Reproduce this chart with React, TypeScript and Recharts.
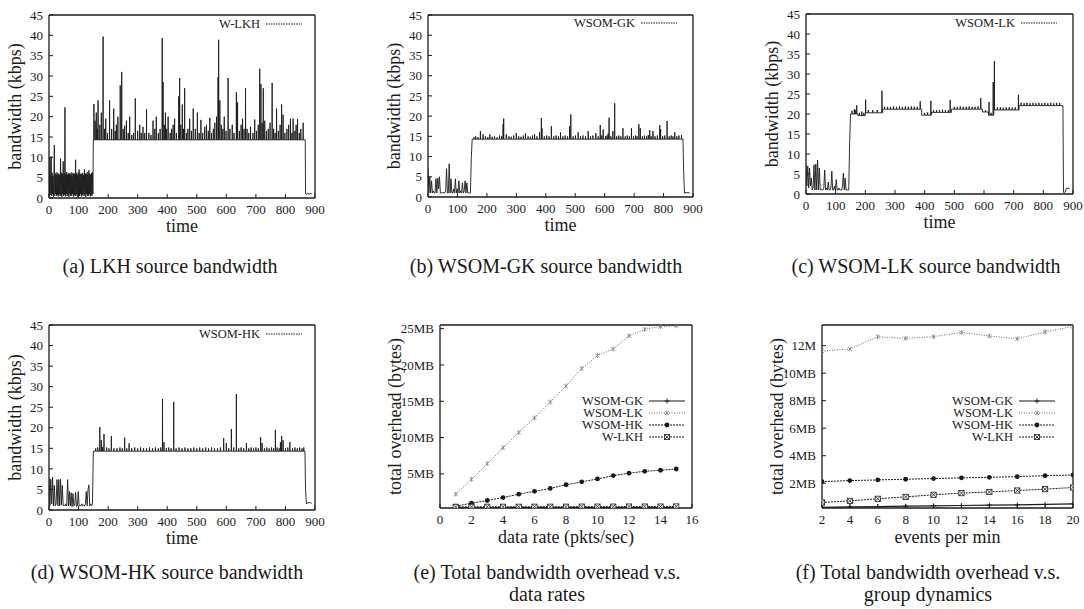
import React from 'react';
import { LineChart, Line, XAxis, YAxis, Legend } from 'recharts';

const SERIF = '"Liberation Serif", "DejaVu Serif", serif';
const INK = '#1a1a1a';

// start-up phase sample spacing (s); the LKH run is sampled twice as densely
const LOW_STEP = 3;
const LKH_LOW_STEP = 1.5;
const TAIL_START = 868;
const TAIL_STEP = 3;

const timeTicks = [0, 100, 200, 300, 400, 500, 600, 700, 800, 900];
const bwTicks = [0, 5, 10, 15, 20, 25, 30, 35, 40, 45];

type Seg = [number, number, number];
type Spike = [number, number];

// (a) W-LKH
const lkhLow = [
  6, 0.5, 10, 0.8, 5.8, 10.2, 0.5, 6.2, 1, 5.5, 0.3, 6, 13, 0.5, 6.1, 1, 5.7, 0.5, 6.3, 0.8,
  5.9, 0.4, 6, 1, 5.6, 0.5, 9.7, 0.6, 6.2, 0.3, 5.8, 1, 9, 0.5, 6, 0.8, 22.3, 0.4, 5.9, 1,
  6.4, 0.5, 5.7, 0.8, 6.1, 0.3, 6, 1, 5.8, 0.5, 6.3, 0.6, 5.5, 1, 6.2, 0.4, 5.9, 0.8, 6, 0.5,
  9.4, 0.6, 6.1, 1, 5.7, 0.3, 6.3, 0.8, 7, 0.5, 5.9, 1, 6, 0.4, 5.8, 0.6, 6.2, 1, 5.6, 0.5,
  7, 0.8, 6, 0.3, 5.9, 1, 6.4, 0.5, 5.8, 0.6, 6.8, 1, 6, 0.4, 5.7, 0.8, 6.1, 0.5, 6.3, 1,
];
const lkhSegs: Seg[] = [[150, 867, 14.3]];
const lkhSpikes: Spike[] = [
  [152, 23.1], [156, 19], [160, 21], [163, 17], [166, 24], [172, 18], [177, 21], [183, 39.7], [188, 17], [192, 19.5],
  [198, 16], [205, 24], [212, 17], [219, 22], [224, 16.5], [228, 18], [233, 20], [241, 27.7], [246, 31], [251, 17],
  [256, 17.8], [262, 19], [268, 16], [273, 20], [280, 15.5], [286, 16], [292, 24.5], [300, 16.5], [307, 18], [312, 16],
  [318, 17.5], [324, 16], [330, 21.8], [338, 16], [345, 15.5], [352, 19], [358, 17], [363, 20], [370, 16], [376, 17],
  [383, 39.3], [386, 28.5], [390, 18], [394, 21], [398, 17], [403, 20], [410, 16], [415, 17], [420, 18], [425, 19.5],
  [431, 16], [439, 25], [442, 29.5], [446, 18], [451, 23], [455, 17], [459, 27], [465, 16], [470, 17], [476, 19.5],
  [482, 16.5], [488, 22], [495, 17], [502, 21], [508, 16], [514, 19.2], [520, 16], [527, 17.5], [533, 18], [539, 16.5],
  [544, 19.7], [550, 16], [556, 17], [561, 18.5], [567, 20], [572, 29.7], [574, 38.9], [578, 24], [583, 18], [588, 17],
  [593, 20], [599, 16.5], [606, 29.5], [612, 17], [620, 18], [626, 16], [634, 26], [638, 23.5], [644, 16.5], [650, 18],
  [655, 19.5], [660, 17], [665, 27], [670, 17], [676, 16], [682, 17.5], [690, 16], [696, 19.3], [702, 16.5], [708, 18],
  [713, 31.8], [717, 28], [721, 18.5], [725, 27], [730, 19], [736, 16.5], [742, 17], [748, 18.5], [755, 28.3], [760, 17],
  [765, 16], [770, 22], [776, 16.5], [782, 18], [787, 23], [792, 20.5], [798, 16], [805, 17], [811, 18], [817, 19.5],
  [822, 16], [826, 19.5], [832, 16.5], [836, 18], [841, 19.4], [847, 16], [852, 17], [860, 18.5],
];
const lkhTail = [1, 0.8, 1.2, 1, 1.1, 0.9, 1.2, 1];

// (b) WSOM-GK
const gkLow = [7.3, 1, 5, 1, 4, 1, 1.5, 1, 1, 4.5, 1, 4.7, 2, 5, 1, 1, 1, 1.2, 1, 1,
  1.5, 7, 1, 1, 8.2, 1, 4.5, 1, 1, 2, 1, 4.5, 1, 2, 1, 4, 1, 1.5, 1, 3.5,
  1, 1.5, 4, 1, 3.5, 1, 1, 1, 1, 9.5];
const gkSegs: Seg[] = [[150, 866, 14.3]];
const gkSpikes: Spike[] = [
  [156, 14.8], [162, 15], [170, 14.8], [178, 16.3], [187, 15.5], [195, 15], [203, 14.8], [210, 15.5], [218, 14.9], [226, 15],
  [235, 14.8], [243, 15.2], [250, 15], [255, 18], [257, 19.4], [266, 15.5], [275, 15], [283, 14.9], [291, 15.2], [300, 15.8],
  [308, 15], [316, 14.9], [324, 15.2], [331, 15.7], [340, 15], [348, 14.9], [355, 15.2], [362, 15.5], [370, 15], [379, 16],
  [385, 19.5], [387, 17], [395, 15], [403, 15.2], [411, 15], [419, 17.5], [427, 15], [435, 15.2], [443, 15], [450, 16],
  [458, 15], [466, 15.2], [474, 15], [481, 17.5], [485, 20.4], [493, 15], [501, 15.2], [510, 16], [518, 15], [526, 15.2],
  [535, 15], [544, 16.3], [552, 15], [560, 15.2], [570, 15.8], [578, 15], [585, 17.8], [590, 15.2], [595, 16.7], [603, 15],
  [608, 15.2], [612, 15.7], [615, 19.6], [621, 15], [628, 16.3], [634, 23.2], [641, 15], [648, 15.2], [655, 15], [662, 17],
  [670, 15], [677, 15.2], [684, 15], [691, 17], [698, 15], [705, 15.2], [710, 15], [716, 18], [721, 17], [728, 15],
  [735, 15.2], [742, 15], [748, 15.3], [753, 16.5], [758, 15], [764, 16.3], [771, 15], [779, 15.2], [787, 17.8], [790, 16.8],
  [797, 15], [804, 15.2], [812, 18.8], [819, 15], [826, 15.2], [832, 15], [838, 16], [845, 15], [852, 15.2], [861, 15.3],
];
const gkTail = [6.7, 1, 1.2, 0.9, 1.2, 1, 1.1, 1];

// (c) WSOM-LK
const lkLow = [7.3, 2, 7, 1.5, 6.5, 2, 4, 1, 1.5, 7.3, 1, 7.5, 1, 8.5, 1, 6.5, 1, 1.2, 1, 1,
  1.5, 6, 1, 1.5, 1, 3, 1, 1, 1.5, 5.7, 1, 1, 2, 1, 3.6, 1, 1, 1.5, 1, 1,
  1, 2, 5.2, 1, 4, 1, 1, 1, 1, 12.5];
const lkSegs: Seg[] = [
  [150, 175, 20.0], [175, 200, 19.6], [200, 257, 20.3], [257, 390, 21.2], [390, 422, 19.7], [422, 490, 20.4],
  [490, 595, 21.2], [595, 615, 20.5], [615, 633, 19.7], [633, 718, 21.0], [718, 866, 22.1],
];
const lkSpikes: Spike[] = [
  [155, 20.8], [163, 21.2], [166, 21], [171, 22.2], [180, 20.3], [188, 20.6], [195, 20.3], [201, 23.6], [210, 21], [225, 21],
  [240, 21], [256, 25.8], [265, 21.8], [275, 21.8], [285, 21.8], [295, 21.9], [305, 21.8], [315, 21.9], [325, 21.8], [335, 21.9],
  [345, 21.8], [355, 21.9], [365, 21.8], [375, 21.8], [385, 23.2], [400, 20.3], [410, 20.4], [421, 23.3], [430, 21], [440, 21],
  [450, 21], [460, 21.1], [470, 21], [480, 21], [486, 23.5], [500, 21.8], [510, 21.8], [520, 21.9], [530, 21.8], [540, 21.8],
  [550, 21.9], [560, 21.8], [570, 21.8], [580, 21.9], [589, 24], [605, 21], [617, 23], [624, 20.3], [631, 28], [635, 33.2],
  [645, 21.7], [655, 21.7], [665, 21.6], [675, 21.7], [685, 21.7], [695, 21.6], [705, 21.7], [716, 24.8], [725, 22.8], [735, 22.7],
  [745, 22.8], [755, 22.7], [765, 22.8], [775, 22.7], [785, 22.8], [795, 22.7], [805, 22.8], [815, 22.7], [825, 22.8], [835, 22.7],
  [845, 22.8], [855, 22.8],
];
const lkTail = [0.4, 0.4, 0.5, 1.3, 1.5, 1.3, 1.5, 1.3];

// (d) WSOM-HK
const hkLow = [7.8, 1, 7.5, 1.5, 8, 1, 6, 1, 1.5, 7.4, 1, 7.4, 1, 7.5, 1.2, 6, 1, 1.2, 1, 1.5,
  1, 7.4, 1, 4.5, 1, 4.2, 0.8, 4, 1, 1.2, 4.3, 0.8, 1, 4.5, 1, 1.2, 1, 1.5, 1, 1.2,
  1, 1.5, 4.5, 1, 5, 6.1, 1, 1.5, 1, 1.5];
const hkSegs: Seg[] = [[150, 866, 14.3]];
const hkSpikes: Spike[] = [
  [158, 15], [165, 15.2], [172, 20.2], [177, 17], [181, 15.3], [186, 18.5], [195, 15.2], [203, 15], [211, 18], [220, 15],
  [230, 15], [240, 15.2], [248, 15], [256, 17.6], [263, 15], [271, 16.2], [280, 15], [290, 15.2], [300, 15], [310, 15.2],
  [320, 15], [330, 15], [340, 15.2], [350, 15], [360, 15.2], [370, 15], [378, 15.2], [384, 27], [389, 16.5], [397, 15],
  [405, 15.2], [413, 15], [422, 26.3], [430, 15], [440, 15.2], [450, 15], [460, 15.2], [470, 15], [480, 15], [490, 15.2],
  [500, 15], [510, 15.2], [520, 15], [530, 15.2], [540, 15], [550, 15.2], [560, 15], [570, 15], [580, 15.2], [591, 17.5],
  [600, 16.3], [608, 15], [617, 19.7], [625, 15.2], [634, 28.2], [642, 15], [650, 15.2], [659, 15], [668, 16.3], [676, 15],
  [684, 15.2], [692, 15], [700, 15.2], [708, 15], [716, 17.7], [721, 16.3], [729, 15], [737, 15.2], [745, 15], [753, 15.2],
  [760, 15], [766, 19.5], [772, 15.2], [779, 15], [783, 16.5], [787, 18], [792, 17], [800, 15], [808, 15.2], [815, 16.5],
  [824, 15], [832, 15.2], [840, 15], [848, 15.2], [856, 15], [862, 15.2],
];
const hkTail = [5, 1.5, 1.8, 1.6, 1.9, 1.7, 1.8, 1.6];

// (e) overhead vs data rate, MB
const rates = [1, 2, 3, 4, 5, 6, 7, 8, 9, 10, 11, 12, 13, 14, 15];
const rateGK = [0.32, 0.32, 0.33, 0.33, 0.34, 0.34, 0.35, 0.35, 0.35, 0.36, 0.36, 0.36, 0.37, 0.37, 0.37];
const rateLK = [2.2, 4.25, 6.4, 8.6, 10.7, 12.7, 14.9, 17.1, 19.5, 21.3, 22.2, 24.0, 24.9, 25.3, 25.4];
const rateHK = [0.55, 0.96, 1.33, 1.74, 2.2, 2.6, 3.0, 3.5, 3.9, 4.3, 4.76, 5.1, 5.35, 5.5, 5.67];
const rateWLKH = [0.46, 0.46, 0.47, 0.47, 0.47, 0.48, 0.48, 0.48, 0.49, 0.49, 0.49, 0.5, 0.5, 0.5, 0.51];
const rateXTicks = [0, 2, 4, 6, 8, 10, 12, 14, 16];
const rateYTicks = [5, 10, 15, 20, 25];

// (f) overhead vs events per minute, MB
const events = [2, 4, 6, 8, 10, 12, 14, 16, 18, 20];
const dynGK = [0.25, 0.28, 0.3, 0.33, 0.36, 0.38, 0.41, 0.43, 0.46, 0.5];
const dynLK = [11.6, 11.76, 12.65, 12.53, 12.65, 12.96, 12.7, 12.5, 13.0, 13.4];
const dynHK = [2.12, 2.19, 2.24, 2.29, 2.34, 2.39, 2.43, 2.48, 2.55, 2.6];
const dynWLKH = [0.6, 0.72, 0.87, 1.01, 1.16, 1.28, 1.37, 1.47, 1.57, 1.69];
const dynXTicks = [2, 4, 6, 8, 10, 12, 14, 16, 18, 20];
const dynYTicks = [2, 4, 6, 8, 10, 12];

function buildTrace(low: number[], step: number, segs: Seg[], spikes: Spike[], tail: number[]) {
  const pts = low.map((bw, i) => ({ t: i * step, bw }));
  for (const [t0, t1, lvl] of segs) {
    pts.push({ t: t0, bw: lvl });
    spikes
      .filter(([t]) => t >= t0 && t < t1)
      .sort((a, b) => a[0] - b[0])
      .forEach(([t, peak]) => {
        pts.push({ t: t - 0.4, bw: lvl }, { t, bw: peak }, { t: t + 0.4, bw: lvl });
      });
    pts.push({ t: t1, bw: lvl });
  }
  tail.forEach((bw, i) => pts.push({ t: TAIL_START + i * TAIL_STEP, bw }));
  return pts;
}

type MarkKind = 'plus' | 'star' | 'disc' | 'boxx' | 'none';

function Mark({ kind, cx, cy }: { kind: MarkKind; cx: number; cy: number }) {
  if (kind === 'plus')
    return <path d={`M${cx - 2.5},${cy}h5M${cx},${cy - 2.5}v5`} stroke={INK} strokeWidth={0.9} />;
  if (kind === 'star')
    return <path d={`M${cx - 2},${cy - 2}l4,4M${cx - 2},${cy + 2}l4,-4M${cx},${cy - 2.5}v5`} stroke="#777" strokeWidth={0.7} />;
  if (kind === 'disc') return <circle cx={cx} cy={cy} r={2.4} fill={INK} />;
  if (kind === 'boxx')
    return (
      <g stroke={INK} strokeWidth={0.8} fill="#fff">
        <rect x={cx - 2.6} y={cy - 2.6} width={5.2} height={5.2} />
        <path d={`M${cx - 2.6},${cy - 2.6}l5.2,5.2M${cx - 2.6},${cy + 2.6}l5.2,-5.2`} />
      </g>
    );
  return null;
}

type KeyRow = { name: string; dash?: string; color?: string; width?: number; mark?: MarkKind };

function KeyBox({ rows, textW }: { rows: KeyRow[]; textW: number }) {
  return (
    <div style={{ fontFamily: SERIF, fontSize: 12.5, color: INK, lineHeight: '12px' }}>
      {rows.map((r) => (
        <div key={r.name} style={{ display: 'flex', alignItems: 'center', height: 12 }}>
          <span style={{ width: textW, textAlign: 'right', whiteSpace: 'nowrap' }}>{r.name}</span>
          <svg width={36} height={12} style={{ marginLeft: 6 }}>
            <line x1={0} y1={6} x2={36} y2={6} stroke={r.color ?? INK} strokeWidth={r.width ?? 1} strokeDasharray={r.dash} />
            <Mark kind={r.mark ?? 'none'} cx={18} cy={6} />
          </svg>
        </div>
      ))}
    </div>
  );
}

type Box = { x: number; y: number; w: number; h: number };

interface PanelProps {
  box: Box;
  yW: number;
  xH: number;
  data: any[];
  xKey: string;
  xDomain: [number, number];
  xTicks: number[];
  yDomain: [number, number];
  yTicks: number[];
  yFmt?: (v: number) => string;
  xLabel: string;
  yLabel: string;
  keyRows: KeyRow[];
  keyRight: number;
  keyTop: number;
  keyTextW: number;
  children: React.ReactNode;
}

const TOP_PAD = 9;
const RIGHT_PAD = 12;

function Panel(p: PanelProps) {
  const { box, yW, xH } = p;
  const left = box.x - yW;
  const top = box.y - TOP_PAD - 1;
  const width = yW + box.w + RIGHT_PAD + 1;
  const height = TOP_PAD + 1 + box.h + xH;
  const tickFont = { fill: INK, fontSize: 13, fontFamily: SERIF };
  const labelFont = { fill: INK, fontSize: 18, fontFamily: SERIF };
  const axisLine = { stroke: INK, strokeWidth: 1.3 };
  return (
    <div style={{ position: 'absolute', left, top }}>
      <LineChart width={width} height={height} data={p.data} margin={{ top: TOP_PAD, right: RIGHT_PAD, bottom: 0, left: 0 }}>
        <XAxis dataKey={p.xKey} type="number" domain={p.xDomain} ticks={p.xTicks} interval={0} allowDataOverflow
          height={xH} tick={tickFont} tickSize={-4} tickMargin={11} stroke={INK} axisLine={axisLine}
          label={{ value: p.xLabel, position: 'center', ...labelFont }} />
        <XAxis xAxisId="top" orientation="top" dataKey={p.xKey} type="number" domain={p.xDomain} ticks={p.xTicks}
          interval={0} allowDataOverflow height={1} tick={false} tickSize={-4} stroke={INK} axisLine={axisLine} />
        <YAxis type="number" domain={p.yDomain} ticks={p.yTicks} interval={0} allowDataOverflow width={yW}
          tickFormatter={p.yFmt} tick={tickFont} tickSize={-4} tickMargin={10} stroke={INK} axisLine={axisLine}
          label={{ value: p.yLabel, angle: -90, position: 'center', ...labelFont }} />
        <YAxis yAxisId="right" orientation="right" type="number" domain={p.yDomain} ticks={p.yTicks} interval={0}
          allowDataOverflow width={1} tick={false} tickSize={-4} stroke={INK} axisLine={axisLine} />
        <Legend layout="horizontal" verticalAlign="middle" align="center"
          wrapperStyle={{ left: p.keyRight - p.keyTextW - left, top: p.keyTop - 6 - top, width: 'auto' }}
          content={() => <KeyBox rows={p.keyRows} textW={p.keyTextW} />} />
        {p.children}
      </LineChart>
    </div>
  );
}

function BandwidthPanel({ box, name, trace, keyRight, keyTop }: { box: Box; name: string; trace: any[]; keyRight: number; keyTop: number }) {
  return (
    <Panel box={box} yW={68} xH={56} data={trace} xKey="t" xDomain={[0, 900]} xTicks={timeTicks}
      yDomain={[0, 45]} yTicks={bwTicks} xLabel="time" yLabel="bandwidth  (kbps)"
      keyRows={[{ name, dash: '1.5 1' }]} keyRight={keyRight} keyTop={keyTop} keyTextW={64}>
      <Line dataKey="bw" type="linear" stroke={INK} strokeWidth={0.9} dot={false} activeDot={false} isAnimationActive={false} />
    </Panel>
  );
}

const dotOf = (kind: MarkKind) => (props: any) => <Mark key={props.index} kind={kind} cx={props.cx} cy={props.cy} />;

const overheadRows: KeyRow[] = [
  { name: 'WSOM-GK', mark: 'plus', width: 1.2 },
  { name: 'WSOM-LK', mark: 'star', dash: '1 1.5', color: '#666' },
  { name: 'WSOM-HK', mark: 'disc', dash: '2 1' },
  { name: 'W-LKH', mark: 'boxx', dash: '2 1' },
];

function Caption({ cx, cy, lines }: { cx: number; cy: number; lines: string[] }) {
  return (
    <div style={{ position: 'absolute', left: cx - 250, top: cy - 11, width: 500, textAlign: 'center',
      fontFamily: SERIF, fontSize: 20, lineHeight: '22px', color: INK }}>
      {lines.map((l) => <div key={l}>{l}</div>)}
    </div>
  );
}

export default function App() {
  const traceA = buildTrace(lkhLow, LKH_LOW_STEP, lkhSegs, lkhSpikes, lkhTail);
  const traceB = buildTrace(gkLow, LOW_STEP, gkSegs, gkSpikes, gkTail);
  const traceC = buildTrace(lkLow, LOW_STEP, lkSegs, lkSpikes, lkTail);
  const traceD = buildTrace(hkLow, LOW_STEP, hkSegs, hkSpikes, hkTail);
  const rateData = rates.map((r, i) => ({ r, gk: rateGK[i], lk: rateLK[i], hk: rateHK[i], wlkh: rateWLKH[i] }));
  const dynData = events.map((e, i) => ({ e, gk: dynGK[i], lk: dynLK[i], hk: dynHK[i], wlkh: dynWLKH[i] }));

  const overheadSeries = [
    <Line key="gk" dataKey="gk" type="linear" stroke={INK} strokeWidth={1.2} dot={dotOf('plus')} activeDot={false} isAnimationActive={false} />,
    <Line key="lk" dataKey="lk" type="linear" stroke="#666" strokeWidth={1} strokeDasharray="1 1.5" dot={dotOf('star')} activeDot={false} isAnimationActive={false} />,
    <Line key="hk" dataKey="hk" type="linear" stroke={INK} strokeWidth={1} strokeDasharray="2 1" dot={dotOf('disc')} activeDot={false} isAnimationActive={false} />,
    <Line key="wlkh" dataKey="wlkh" type="linear" stroke={INK} strokeWidth={1} strokeDasharray="2 1" dot={dotOf('boxx')} activeDot={false} isAnimationActive={false} />,
  ];

  return (
    <div style={{ position: 'absolute', left: 0, top: 0, width: 1084, height: 609, background: '#fff', overflow: 'hidden', fontFamily: SERIF }}>
      <BandwidthPanel box={{ x: 49, y: 15, w: 266, h: 183 }} name="W-LKH" trace={traceA} keyRight={260} keyTop={24} />
      <BandwidthPanel box={{ x: 428, y: 15, w: 265, h: 182 }} name="WSOM-GK" trace={traceB} keyRight={635} keyTop={23} />
      <BandwidthPanel box={{ x: 806, y: 14, w: 267, h: 180 }} name="WSOM-LK" trace={traceC} keyRight={1015} keyTop={23} />
      <BandwidthPanel box={{ x: 49, y: 325, w: 266, h: 185 }} name="WSOM-HK" trace={traceD} keyRight={260} keyTop={334} />

      <Panel box={{ x: 440, y: 325, w: 252, h: 183 }} yW={90} xH={58} data={rateData} xKey="r" xDomain={[0, 16]}
        xTicks={rateXTicks} yDomain={[0.3, 25.5]} yTicks={rateYTicks} yFmt={(v) => `${v}MB`}
        xLabel="data rate (pkts/sec)" yLabel="total overhead  (bytes)" keyRows={overheadRows}
        keyRight={643} keyTop={401} keyTextW={90}>
        {overheadSeries}
      </Panel>

      <Panel box={{ x: 822, y: 325, w: 251, h: 183 }} yW={90} xH={58} data={dynData} xKey="e" xDomain={[2, 20]}
        xTicks={dynXTicks} yDomain={[0.2, 13.5]} yTicks={dynYTicks} yFmt={(v) => (v === 12 ? '12M' : `${v}MB`)}
        xLabel="events per min" yLabel="total overhead  (bytes)" keyRows={overheadRows}
        keyRight={1013} keyTop={401} keyTextW={90}>
        {overheadSeries}
      </Panel>

      <Caption cx={170} cy={266} lines={['(a) LKH source bandwidth']} />
      <Caption cx={546} cy={266} lines={['(b) WSOM-GK source bandwidth']} />
      <Caption cx={926} cy={266} lines={['(c) WSOM-LK source bandwidth']} />
      <Caption cx={167} cy={572} lines={['(d) WSOM-HK source bandwidth']} />
      <Caption cx={547} cy={572} lines={['(e) Total bandwidth overhead v.s.', 'data rates']} />
      <Caption cx={928} cy={572} lines={['(f) Total bandwidth overhead v.s.', 'group dynamics']} />
    </div>
  );
}
